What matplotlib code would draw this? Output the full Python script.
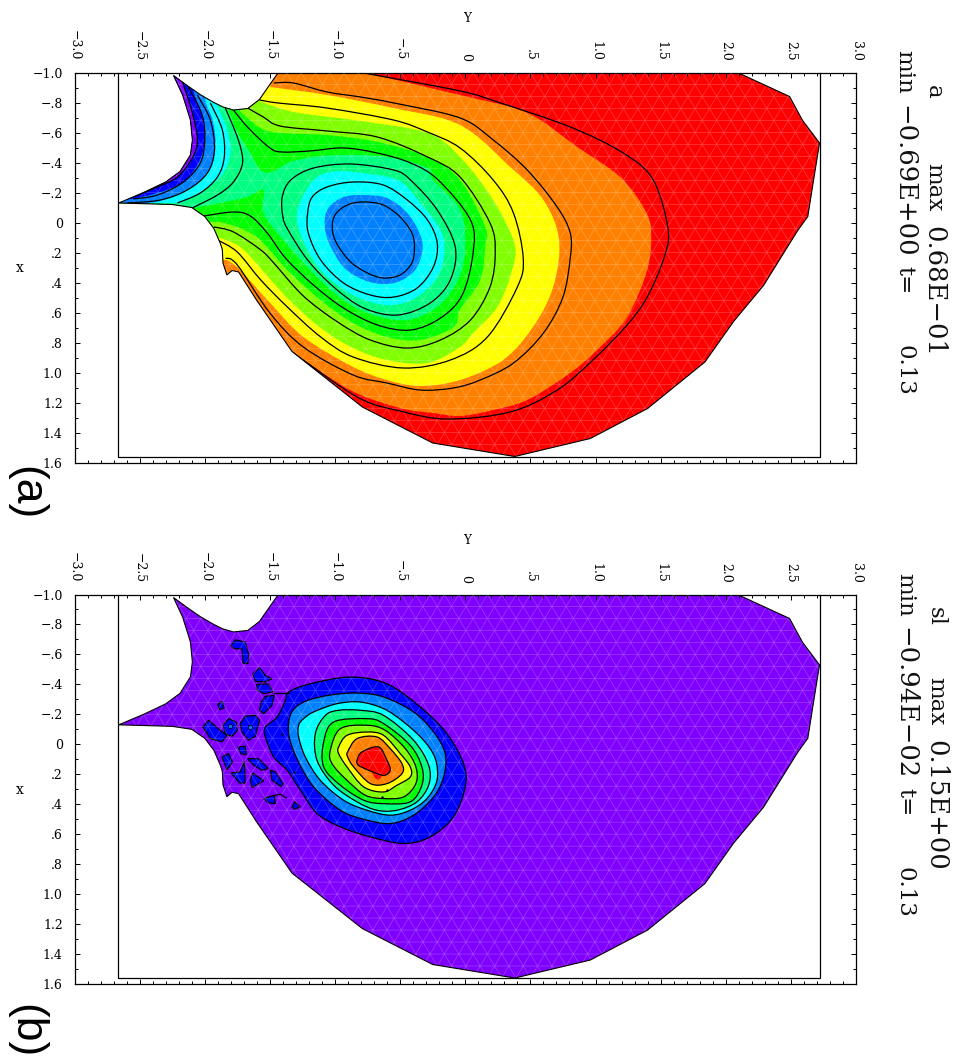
import matplotlib
matplotlib.use("Agg")
import matplotlib.pyplot as plt
import numpy as np
from matplotlib.patches import PathPatch, Polygon
from matplotlib.path import Path
from matplotlib.tri import Triangulation

W, H = 956, 1059

RED, ORANGE, YELLOW, YGREEN = "#ff0000", "#ff8000", "#ffff00", "#80ff00"
GREEN, SPRING, CYAN, AZURE = "#00ff00", "#00ff80", "#00ffff", "#0080ff"
BLUE, VIOLET = "#0000ff", "#8000ff"

# all outlines are (Y, x) pairs
domain = [(-1.435, -1.0), (-1.50, -0.92), (-1.58, -0.82), (-1.67, -0.76), (-1.78, -0.75), (-1.86, -0.77),
          (-1.93, -0.80), (-2.03, -0.85), (-2.13, -0.91), (-2.24, -0.98), (-2.17, -0.85), (-2.11, -0.683),
          (-2.095, -0.55), (-2.11, -0.45), (-2.19, -0.34), (-2.30, -0.27), (-2.47, -0.20), (-2.66, -0.13),
          (-2.25, -0.12), (-2.10, -0.10), (-2.00, -0.04), (-1.93, 0.04), (-1.88, 0.14), (-1.865, 0.18),
          (-1.86, 0.27), (-1.83, 0.35), (-1.79, 0.32), (-1.74, 0.33), (-1.60, 0.52), (-1.33, 0.86),
          (-0.79, 1.23), (-0.25, 1.47), (0.38, 1.56), (0.96, 1.44), (1.40, 1.24), (1.84, 0.93), (2.06, 0.66),
          (2.29, 0.42), (2.555, 0.05), (2.63, -0.04), (2.67, -0.26), (2.72, -0.53), (2.59, -0.68),
          (2.49, -0.84), (2.09, -1.0)]

# panel a, filled bands (points past the frame only close the shape)
a_orange = [(-0.783, -1.0), (-0.04, -0.85), (0.476, -0.73), (0.86, -0.503), (1.19, -0.303), (1.38, -0.083),
            (1.427, 0.07), (1.397, 0.317), (1.243, 0.63), (1.036, 0.83), (0.806, 1.003), (0.476, 1.183),
            (0.215, 1.25), (-0.04, 1.29), (-0.245, 1.27), (-0.50, 1.237), (-0.883, 1.117), (-1.33, 0.863),
            (-2.9, 0.5), (-2.9, -1.1), (-0.783, -1.1)]
a_yellow = [(-1.497, -0.903), (-1.06, -0.85), (-0.553, -0.763), (-0.04, -0.65), (0.345, -0.37), (0.60, -0.15),
            (0.72, 0.117), (0.675, 0.43), (0.52, 0.697), (0.29, 0.917), (-0.04, 1.05), (-0.345, 1.09),
            (-0.60, 1.05), (-0.86, 0.963), (-1.243, 0.763), (-1.497, 0.537), (-1.727, 0.317), (-1.827, 0.25),
            (-2.9, 0.25), (-2.9, -1.1), (-1.497, -1.1)]
a_ygreen = [(-1.58, -0.81), (-1.32, -0.737), (-0.806, -0.677), (-0.29, -0.597), (-0.04, -0.437), (0.215, -0.15),
            (0.376, 0.137), (0.36, 0.317), (0.246, 0.563), (0.06, 0.737), (-0.04, 0.83), (-0.29, 0.937),
            (-0.60, 0.917), (-0.86, 0.837), (-1.11, 0.703), (-1.366, 0.503), (-1.573, 0.303), (-1.727, 0.163),
            (-1.88, 0.103), (-2.9, 0.10), (-2.9, -1.1), (-1.58, -1.1)]
a_green = [(-1.727, -0.737), (-1.573, -0.63), (-1.42, -0.597), (-1.06, -0.583), (-0.675, -0.537), (-0.29, -0.437),
           (-0.04, -0.283), (0.153, 0.03), (0.153, 0.163), (0.115, 0.383), (-0.04, 0.583), (-0.09, 0.697),
           (-0.345, 0.783), (-0.60, 0.763), (-0.86, 0.67), (-1.11, 0.517), (-1.366, 0.317), (-1.573, 0.117),
           (-1.727, 0.037), (-1.88, -0.003), (-2.9, 0.0), (-2.9, -1.1), (-1.727, -1.1)]
a_spring = [(-1.819, -0.75), (-1.75, -0.603), (-1.65, -0.463), (-1.573, -0.35), (-1.481, -0.337), (-1.343, -0.403),
            (-1.113, -0.443), (-0.806, -0.45), (-0.553, -0.43), (-0.29, -0.363), (-0.246, -0.283), (-0.038, -0.083),
            (0.0, 0.163), (-0.054, 0.383), (-0.215, 0.563), (-0.445, 0.65), (-0.706, 0.617), (-0.936, 0.517),
            (-1.167, 0.337), (-1.397, 0.117), (-1.55, -0.063), (-1.55, -0.217), (-1.673, -0.17), (-1.88, -0.13),
            (-2.087, -0.097), (-2.9, -0.097), (-2.9, -1.1), (-1.819, -1.1)]
a_cyan = [(-0.86, -0.337), (-0.52, -0.283), (-0.345, -0.13), (-0.19, 0.05), (-0.16, 0.197), (-0.215, 0.363),
          (-0.37, 0.497), (-0.55, 0.55), (-0.73, 0.53), (-0.905, 0.463), (-1.09, 0.337), (-1.21, 0.183),
          (-1.29, 0.003), (-1.27, -0.13), (-1.165, -0.283), (-1.035, -0.337)]
a_azure = [(-0.78, -0.183), (-0.60, -0.163), (-0.445, -0.063), (-0.345, 0.083), (-0.33, 0.197), (-0.385, 0.317),
           (-0.50, 0.39), (-0.63, 0.41), (-0.78, 0.383), (-0.935, 0.297), (-1.05, 0.13), (-1.08, 0.003),
           (-1.05, -0.097), (-0.935, -0.17)]
a_tip_cyan = [(-1.896, -0.77), (-1.827, -0.617), (-1.803, -0.463), (-1.857, -0.33), (-1.98, -0.23), (-2.187, -0.13),
              (-2.9, -0.13), (-2.9, -1.1), (-1.896, -1.1)]
a_tip_azure = [(-1.995, -0.803), (-1.934, -0.663), (-1.919, -0.483), (-1.972, -0.337), (-2.11, -0.23),
               (-2.318, -0.15), (-2.471, -0.123), (-2.9, -0.12), (-2.9, -1.1), (-1.995, -1.1)]
a_tip_blue = [(-2.087, -0.87), (-2.018, -0.703), (-2.003, -0.53), (-2.049, -0.397), (-2.164, -0.27),
              (-2.364, -0.197), (-2.556, -0.157), (-2.9, -0.14), (-2.9, -1.1), (-2.087, -1.1)]
a_tip_violet = [(-2.17, -0.937), (-2.095, -0.73), (-2.057, -0.55), (-2.095, -0.43), (-2.21, -0.303),
                (-2.364, -0.237), (-2.55, -0.17), (-2.9, -0.17), (-2.9, -1.1), (-2.17, -1.1)]

# panel a, contour lines
a_l1 = [(-0.78, -0.137), (-0.63, -0.117), (-0.50, -0.037), (-0.41, 0.07), (-0.39, 0.163), (-0.41, 0.27),
        (-0.50, 0.35), (-0.63, 0.37), (-0.75, 0.337), (-0.88, 0.263), (-0.98, 0.15), (-1.02, 0.05), (-1.00, -0.05),
        (-0.905, -0.117)]
a_l2 = [(-0.86, -0.27), (-0.63, -0.25), (-0.445, -0.15), (-0.29, -0.017), (-0.215, 0.137), (-0.245, 0.297),
        (-0.37, 0.437), (-0.55, 0.497), (-0.73, 0.483), (-0.935, 0.403), (-1.11, 0.25), (-1.205, 0.07),
        (-1.21, -0.063), (-1.175, -0.17), (-1.06, -0.237)]
a_l3 = [(-0.88, -0.39), (-0.55, -0.35), (-0.42, -0.283), (-0.215, -0.083), (-0.077, 0.163), (-0.115, 0.383),
        (-0.27, 0.537), (-0.52, 0.617), (-0.78, 0.57), (-1.01, 0.43), (-1.21, 0.25), (-1.36, 0.05), (-1.40, -0.037),
        (-1.405, -0.17), (-1.34, -0.283), (-1.165, -0.363)]
a_l4 = [(-2.01, -0.043), (-1.78, -0.07), (-1.65, -0.043), (-1.52, 0.07), (-1.38, 0.237), (-1.165, 0.417),
        (-0.935, 0.57), (-0.675, 0.683), (-0.42, 0.717), (-0.19, 0.637), (-0.023, 0.483), (0.06, 0.203),
        (0.04, -0.017), (-0.207, -0.283), (-0.42, -0.397), (-0.675, -0.463), (-0.935, -0.497), (-1.19, -0.477),
        (-1.405, -0.47), (-1.50, -0.497), (-1.665, -0.63), (-1.78, -0.75)]
a_l5 = [(-1.93, 0.03), (-1.78, 0.063), (-1.57, 0.183), (-1.47, 0.27), (-1.243, 0.49), (-0.98, 0.663), (-0.73, 0.783),
        (-0.445, 0.837), (-0.19, 0.783), (0.04, 0.65), (0.19, 0.43), (0.23, 0.203), (0.19, 0.003), (-0.04, -0.303),
        (-0.29, -0.437), (-0.675, -0.57), (-1.06, -0.61), (-1.42, -0.643), (-1.55, -0.703), (-1.67, -0.763)]
a_l6 = [(-1.90, 0.117), (-1.75, 0.197), (-1.57, 0.383), (-1.366, 0.563), (-1.11, 0.763), (-0.86, 0.897), (-0.476, 0.97),
        (-0.115, 0.917), (0.17, 0.763), (0.40, 0.43), (0.445, 0.237), (0.37, -0.063), (0.215, -0.283), (-0.04, -0.497),
        (-0.29, -0.603), (-0.55, -0.683), (-1.06, -0.763), (-1.44, -0.797), (-1.58, -0.817)]
a_l7 = [(-1.84, 0.237), (-1.75, 0.283), (-1.50, 0.603), (-1.243, 0.83), (-0.86, 1.017), (-0.60, 1.07), (-0.345, 1.117),
        (-0.09, 1.103), (0.115, 1.05), (0.37, 0.937), (0.60, 0.737), (0.75, 0.497), (0.806, 0.237), (0.806, 0.07),
        (0.706, -0.103), (0.476, -0.35), (0.215, -0.55), (-0.04, -0.697), (-0.55, -0.797), (-0.806, -0.837),
        (-1.06, -0.87), (-1.32, -0.93), (-1.47, -0.93)]
a_l8 = [(-1.33, 0.863), (-0.83, 1.163), (-0.50, 1.257), (-0.14, 1.31), (0.345, 1.263), (0.706, 1.117), (0.98, 0.917),
        (1.243, 0.683), (1.397, 0.497), (1.52, 0.25), (1.558, 0.05), (1.443, -0.283), (1.213, -0.463), (0.806, -0.637),
        (0.27, -0.797), (-0.04, -0.877), (-0.783, -0.997)]
a_tip1 = [(-2.17, -0.937), (-2.095, -0.73), (-2.057, -0.55), (-2.095, -0.43), (-2.21, -0.303), (-2.364, -0.237),
          (-2.55, -0.17)]
a_tip2 = [(-2.126, -0.903), (-2.02, -0.717), (-2.0, -0.55), (-2.034, -0.397), (-2.164, -0.27), (-2.364, -0.183),
          (-2.55, -0.157)]
a_tip3 = [(-2.057, -0.85), (-1.957, -0.683), (-1.926, -0.483), (-1.98, -0.33), (-2.134, -0.217), (-2.34, -0.15),
          (-2.594, -0.13)]
a_tip4 = [(-1.957, -0.797), (-1.865, -0.617), (-1.85, -0.437), (-1.903, -0.303), (-2.034, -0.197), (-2.21, -0.13)]
a_tip5 = [(-1.842, -0.763), (-1.742, -0.55), (-1.71, -0.397), (-1.78, -0.27), (-1.903, -0.183), (-2.095, -0.097)]

# panel b, nested blob, outlines double as contour lines
b_blue = [(-1.356, -0.349), (-1.19, -0.404), (-0.883, -0.449), (-0.601, -0.404), (-0.345, -0.249), (-0.14, -0.071),
          (-0.013, 0.129), (0.0, 0.284), (-0.09, 0.484), (-0.269, 0.618), (-0.473, 0.662), (-0.729, 0.618),
          (-0.959, 0.551), (-1.138, 0.462), (-1.266, 0.307), (-1.368, 0.173), (-1.471, 0.084), (-1.535, -0.049),
          (-1.535, -0.115), (-1.445, -0.182), (-1.381, -0.293)]
b_azure = [(-1.338, -0.204), (-1.241, -0.282), (-1.049, -0.327), (-0.831, -0.342), (-0.627, -0.316), (-0.397, -0.216),
           (-0.243, -0.082), (-0.154, 0.062), (-0.166, 0.218), (-0.243, 0.351), (-0.397, 0.473), (-0.576, 0.529),
           (-0.78, 0.500), (-0.959, 0.44), (-1.164, 0.284), (-1.292, 0.096), (-1.356, -0.071)]
b_cyan = [(-1.279, -0.127), (-1.241, -0.171), (-1.164, -0.216), (-0.985, -0.271), (-0.806, -0.282), (-0.627, -0.238),
          (-0.473, -0.149), (-0.32, -0.027), (-0.23, 0.096), (-0.217, 0.24), (-0.294, 0.362), (-0.422, 0.44),
          (-0.576, 0.473), (-0.755, 0.44), (-0.934, 0.373), (-1.113, 0.24), (-1.228, 0.084), (-1.279, -0.049)]
b_spring = [(-1.151, -0.071), (-1.074, -0.193), (-0.972, -0.227), (-0.806, -0.227), (-0.627, -0.193), (-0.397, -0.027),
            (-0.281, 0.14), (-0.281, 0.273), (-0.371, 0.384), (-0.524, 0.44), (-0.678, 0.44), (-0.831, 0.384),
            (-1.01, 0.273), (-1.138, 0.107)]
b_green = [(-1.087, -0.015), (-1.01, -0.149), (-0.755, -0.171), (-0.627, -0.138), (-0.422, 0.007), (-0.333, 0.151),
           (-0.333, 0.273), (-0.422, 0.384), (-0.627, 0.396), (-0.78, 0.373), (-0.959, 0.273), (-1.087, 0.151)]
b_ygreen = [(-1.036, 0.04), (-0.959, -0.104), (-0.755, -0.127), (-0.614, -0.093), (-0.46, 0.029), (-0.379, 0.151),
            (-0.379, 0.262), (-0.473, 0.351), (-0.627, 0.362), (-0.767, 0.34), (-0.908, 0.24), (-1.023, 0.129)]
b_yellow = [(-0.972, 0.018), (-0.908, -0.06), (-0.755, -0.082), (-0.627, -0.06), (-0.499, 0.062), (-0.422, 0.151),
            (-0.422, 0.218), (-0.524, 0.273), (-0.627, 0.318), (-0.78, 0.284), (-0.908, 0.151), (-0.972, 0.062)]
b_orange = [(-0.903, 0.051), (-0.831, -0.038), (-0.678, -0.049), (-0.576, 0.029), (-0.486, 0.129), (-0.486, 0.196),
            (-0.6, 0.262), (-0.729, 0.262), (-0.857, 0.151), (-0.903, 0.084)]
b_red = [(-0.831, 0.107), (-0.793, 0.051), (-0.665, 0.018), (-0.601, 0.107), (-0.576, 0.173), (-0.627, 0.207),
         (-0.742, 0.173), (-0.819, 0.14)]
b_red_drop = [(-0.716, 0.184), (-0.678, 0.236), (-0.64, 0.207)]

# panel b, small patches left of the blob
b_islands = [
    [(-1.799, -0.66), (-1.765, -0.698), (-1.689, -0.682), (-1.663, -0.604), (-1.668, -0.538), (-1.707, -0.542),
     (-1.714, -0.638), (-1.778, -0.638)],
    [(-1.63, -0.471), (-1.579, -0.511), (-1.535, -0.46), (-1.484, -0.438), (-1.535, -0.416), (-1.612, -0.42)],
    [(-1.604, -0.4), (-1.51, -0.404), (-1.476, -0.349), (-1.548, -0.338), (-1.594, -0.36)],
    [(-1.535, -0.32), (-1.466, -0.327), (-1.484, -0.26), (-1.548, -0.204), (-1.579, -0.227), (-1.568, -0.282)],
    [(-1.901, -0.267), (-1.868, -0.287), (-1.85, -0.244), (-1.886, -0.231)],
    [(-2.014, -0.116), (-1.97, -0.16), (-1.881, -0.093), (-1.829, -0.06), (-1.868, -0.016), (-1.957, -0.038)],
    [(-1.86, -0.127), (-1.817, -0.171), (-1.758, -0.149), (-1.748, -0.093), (-1.791, -0.053), (-1.842, -0.071)],
    [(-1.727, -0.138), (-1.689, -0.187), (-1.612, -0.193), (-1.579, -0.16), (-1.612, -0.053), (-1.663, -0.027),
     (-1.714, -0.082)],
    [(-1.745, 0.018), (-1.689, 0.013), (-1.681, 0.069), (-1.722, 0.062)],
    [(-1.868, 0.084), (-1.817, 0.062), (-1.786, 0.118), (-1.829, 0.169)],
    [(-1.799, 0.191), (-1.727, 0.184), (-1.696, 0.111), (-1.689, 0.258), (-1.732, 0.258)],
    [(-1.671, 0.096), (-1.586, 0.096), (-1.51, 0.162), (-1.561, 0.173), (-1.625, 0.14)],
    [(-1.497, 0.173), (-1.458, 0.184), (-1.4, 0.262), (-1.412, 0.284), (-1.484, 0.24)],
    [(-1.632, 0.191), (-1.548, 0.244), (-1.637, 0.289), (-1.65, 0.24)],
    [(-1.548, 0.362), (-1.466, 0.34), (-1.458, 0.396), (-1.51, 0.391)],
    [(-1.33, 0.418), (-1.31, 0.384), (-1.267, 0.418), (-1.313, 0.433)],
]
b_island_eyes_Y = [-1.804, -1.655]
b_island_eyes_x = [-0.12, -0.116]
b_open_lines = [[(-1.458, 0.34), (-1.42, 0.333), (-1.374, 0.358)], [(-1.471, -0.344), (-1.356, -0.344)]]
b_dots_Y = [-1.407, -1.318, -0.6, -0.64]
b_dots_x = [-0.067, 0.184, 0.307, 0.351]

box_Y = [-2.665, -2.665, 2.724, 2.724]
box_x = [-1.0, 1.56, 1.56, -1.0]

Y_major = [-3.0, -2.5, -2.0, -1.5, -1.0, -0.5, 0.0, 0.5, 1.0, 1.5, 2.0, 2.5, 3.0]
Y_labels = ["\u22123.0", "\u22122.5", "\u22122.0", "\u22121.5", "\u22121.0", "\u2212.5", "0", ".5", "1.0", "1.5",
            "2.0", "2.5", "3.0"]
x_major = [-1.0, -0.8, -0.6, -0.4, -0.2, 0.0, 0.2, 0.4, 0.6, 0.8, 1.0, 1.2, 1.4, 1.6]
x_labels = ["\u22121.0", "\u2212.8", "\u2212.6", "\u2212.4", "\u2212.2", "0", ".2", ".4", ".6", ".8", "1.0", "1.2",
            "1.4", "1.6"]

a_bands = [(a_orange, ORANGE), (a_yellow, YELLOW), (a_ygreen, YGREEN), (a_green, GREEN), (a_spring, SPRING),
           (a_cyan, CYAN), (a_tip_cyan, CYAN), (a_azure, AZURE), (a_tip_azure, AZURE), (a_tip_blue, BLUE),
           (a_tip_violet, VIOLET)]
a_open = [a_l4, a_l5, a_l6, a_l7, a_l8, a_tip1, a_tip2, a_tip3, a_tip4, a_tip5]
a_rings = [a_l1, a_l2, a_l3]

b_bands = [(b_blue, BLUE), (b_azure, AZURE), (b_cyan, CYAN), (b_spring, SPRING), (b_green, GREEN), (b_ygreen, YGREEN),
           (b_yellow, YELLOW), (b_orange, ORANGE), (b_red_drop, RED), (b_red, RED)]
b_rings = [b_blue, b_azure, b_cyan, b_spring, b_green, b_ygreen, b_yellow, b_orange, b_red]

plt.rcParams["font.family"] = "DejaVu Serif"
fig = plt.figure(figsize=(W / 100, H / 100), dpi=100)


def past_frame(p):
    return p[0] <= -2.9 or p[1] <= -1.05


def curve(pts, loop=True):
    # bezier through the read points, straight on the parts outside the frame
    n = len(pts)
    P = np.array(pts, dtype=float)
    verts = [P[0]]
    codes = [Path.MOVETO]
    for i in range(n if loop else n - 1):
        p1, p2 = P[i], P[(i + 1) % n]
        if past_frame(pts[i]) or past_frame(pts[(i + 1) % n]):
            verts.append(p2)
            codes.append(Path.LINETO)
            continue
        p0 = P[(i - 1) % n] if loop or i > 0 else p1
        p3 = P[(i + 2) % n] if loop or i + 2 < n else p2
        if past_frame(tuple(p0)):
            p0 = p1
        if past_frame(tuple(p3)):
            p3 = p2
        verts += [p1 + (p2 - p0) / 6, p2 - (p3 - p1) / 6, p2]
        codes += [Path.CURVE4] * 3
    return Path(verts, codes)


def panel(top, bottom, base):
    ax = fig.add_axes([74.5 / W, 1 - bottom / H, (856 - 74.5) / W, (bottom - top) / H])
    outline = Polygon(domain, closed=True, transform=ax.transData, facecolor=base, edgecolor="none", zorder=1)
    ax.add_patch(outline)
    ax.set_xlim(-3, 3)
    ax.set_ylim(1.6, -1.0)
    ax.set_xticks(Y_major, Y_labels)
    ax.set_xticks(np.arange(-30, 31) / 10, minor=True)
    ax.set_yticks(x_major, x_labels)
    ax.set_yticks(np.arange(-10, 17) / 10, minor=True)
    ax.tick_params(which="major", direction="in", length=3.6, width=0.7, top=True, bottom=True, left=True, right=True)
    ax.tick_params(which="minor", direction="in", length=2.3, width=0.7, top=True, bottom=True, left=True, right=True)
    ax.tick_params(axis="x", labeltop=True, labelbottom=False, labelrotation=-90, labelsize=9, pad=8.5)
    ax.tick_params(axis="y", labelsize=9, pad=8.5)
    for s in ax.spines.values():
        s.set_linewidth(0.9)
    ax.plot(box_Y, box_x, color="black", lw=0.9, zorder=5, clip_on=False)
    return ax, outline


def fill_bands(ax, outline, bands):
    for pts, col in bands:
        p = PathPatch(curve(pts), facecolor=col, edgecolor="none", lw=0, zorder=2)
        ax.add_patch(p)
        p.set_clip_path(outline)


def add_mesh(ax, outline):
    # plain triangle lattice standing in for the finite element grid
    rows = np.arange(-1.0, 1.65, 0.08)
    Ys, xs = [], []
    for i, r in enumerate(rows):
        cols = np.arange(-2.8, 2.85, 0.11) + (0.055 if i % 2 else 0)
        Ys.extend(cols)
        xs.extend([r] * len(cols))
    for art in ax.triplot(Triangulation(Ys, xs), color="white", alpha=0.25, lw=0.5, zorder=3):
        art.set_clip_path(outline)


def draw_curve(ax, outline, pts, loop, lw=0.9):
    p = PathPatch(curve(pts, loop), facecolor="none", edgecolor="black", lw=lw, zorder=4)
    ax.add_patch(p)
    p.set_clip_path(outline)


def draw_edge(ax):
    ax.add_patch(Polygon(domain, closed=True, facecolor="none", edgecolor="black", lw=0.8, zorder=4))


def put(px, py, s, **kw):
    fig.text(px / W, 1 - py / H, s, rotation=-90, ha="center", va="top", **kw)


# panel a
ax_a, clip_a = panel(72.5, 462.5, RED)
fill_bands(ax_a, clip_a, a_bands)
add_mesh(ax_a, clip_a)
for pts in a_rings:
    draw_curve(ax_a, clip_a, pts, True)
for pts in a_open:
    draw_curve(ax_a, clip_a, pts, False)
draw_edge(ax_a)

# panel b
ax_b, clip_b = panel(594.5, 984, VIOLET)
fill_bands(ax_b, clip_b, b_bands)
for isl in b_islands:
    ax_b.fill(*zip(*isl), facecolor=BLUE, edgecolor="black", lw=0.9, zorder=2)
ax_b.scatter(b_island_eyes_Y, b_island_eyes_x, s=9, color=AZURE, edgecolor="black", lw=0.6, zorder=4)
add_mesh(ax_b, clip_b)
for pts in b_rings:
    draw_curve(ax_b, clip_b, pts, True)
for pts in b_open_lines:
    ax_b.plot(*zip(*pts), color="black", lw=0.9, zorder=4)
ax_b.scatter(b_dots_Y, b_dots_x, s=3, color="black", lw=0, zorder=4)
draw_edge(ax_b)

# axis names, upright like in the original
for ty, lx in [(18, 268), (540, 790)]:
    fig.text(467 / W, 1 - ty / H, "Y", fontsize=8.5, ha="center", va="center")
    fig.text(20 / W, 1 - lx / H, "x", fontsize=10, ha="center", va="center")

# header texts, rotated with the page
head = dict(fontsize=16.5, fontweight="light", color="#111111")
nums = dict(fontsize=18.5, fontweight="light", color="#111111")
put(934, 85, "a", **head)
put(934, 163, "max", **head)
put(934, 226, "0.68E\u221201", **nums)
put(904, 50, "min", **head)
put(904, 105, "\u22120.69E+00", **nums)
put(904, 266, "t=", **head)
put(904, 345, "0.13", **head)

put(936, 607, "sl", **head)
put(936, 677, "max", **head)
put(936, 740, "0.15E+00", **nums)
put(905, 573, "min", **head)
put(905, 627, "\u22120.94E\u221202", **nums)
put(905, 788, "t=", **head)
put(905, 867, "0.13", **head)

put(26, 466, "(a)", fontsize=32, family="Liberation Sans")
put(26, 1004, "(b)", fontsize=32, family="Liberation Sans")

fig.savefig("out.png", dpi=100)
